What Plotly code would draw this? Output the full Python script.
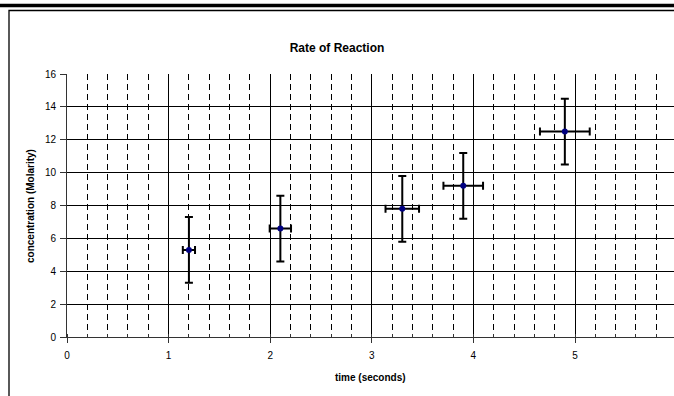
import plotly.graph_objects as go

# Data
time_s = [1.2, 2.1, 3.3, 3.9, 4.9]
concentration = [5.3, 6.6, 7.8, 9.2, 12.5]
y_error = [2, 2, 2, 2, 2]
x_error_percent = 5
x_ticks = [0, 1, 2, 3, 4, 5, 6]
y_ticks = [0, 2, 4, 6, 8, 10, 12, 14, 16]

FONT = "Arial, 'Liberation Sans', sans-serif"

W, H = 674, 396
L, R, T, B = 67, 0, 74, 59
pw = W - L - R
ph = H - T - B
px_per_unit = 101.6
x_max = pw / px_per_unit

fig = go.Figure()
fig.add_trace(go.Scatter(
    x=time_s, y=concentration, mode="markers",
    marker=dict(color="#000080", size=6, line=dict(width=0)),
    error_y=dict(type="data", array=y_error, visible=True, color="black",
                 thickness=2, width=4),
    error_x=dict(type="percent", value=x_error_percent, visible=True,
                 color="black", thickness=2, width=4),
    showlegend=False,
))

def px_x(p):
    return (p - L) / pw

def px_y(p):
    return (H - B - p) / ph

fig.update_layout(
    width=W, height=H, autosize=False,
    margin=dict(l=L, r=R, t=T, b=B, pad=0),
    paper_bgcolor="white", plot_bgcolor="white",
    font=dict(family=FONT, size=10, color="black"),
    title=dict(text="<b>Rate of Reaction</b>", font=dict(size=12, family=FONT),
               x=0.5, xref="container", xanchor="center",
               y=1 - 48 / H, yref="container", yanchor="middle"),
    xaxis=dict(range=[0, x_max], tickvals=x_ticks, ticktext=[str(t) for t in x_ticks],
               showgrid=True, gridcolor="black", gridwidth=1,
               showline=True, linecolor="#333", linewidth=1,
               ticks="outside", ticklen=5, tickcolor="#333",
               ticklabelstandoff=4,
               zeroline=False,
               minor=dict(dtick=0.2, showgrid=True, gridcolor="black",
                          griddash="6px,4px", gridwidth=1,
                          ticks="inside", ticklen=3, tickcolor="#333"),
               tickfont=dict(size=10, family=FONT)),
    yaxis=dict(range=[0, 16], tickvals=y_ticks, ticktext=[str(t) for t in y_ticks],
               showgrid=True, gridcolor="black", gridwidth=1,
               showline=True, linecolor="#333", linewidth=1,
               ticks="outside", ticklen=6, tickcolor="#333",
               ticklabelstandoff=2,
               zeroline=False,
               tickfont=dict(size=10, family=FONT)),
)

fig.add_annotation(text="<b>time (seconds)</b>", xref="paper", yref="paper",
                   x=px_x(370), y=px_y(377), xanchor="center", yanchor="middle",
                   showarrow=False, font=dict(size=10, family=FONT))
fig.add_annotation(text="<b>concentration (Molarity)</b>", xref="paper", yref="paper",
                   x=px_x(30), y=px_y(206), xanchor="center", yanchor="middle",
                   textangle=-90, showarrow=False, font=dict(size=10, family=FONT))

# chart frame (cut off at right and bottom) and heavy rule at top
fig.add_shape(type="rect", xref="paper", yref="paper",
              x0=px_x(9), x1=px_x(W + 20), y0=px_y(H + 20), y1=px_y(10.5),
              line=dict(color="black", width=1.3), fillcolor="rgba(0,0,0,0)", layer="above")
fig.add_shape(type="line", xref="paper", yref="paper",
              x0=px_x(-5), x1=px_x(W + 5), y0=px_y(5.5), y1=px_y(5.5),
              line=dict(color="black", width=3.5), layer="above")

fig.write_html("out.html", config={"displayModeBar": False},
               post_script="document.body.style.margin='0';document.body.style.overflow='hidden';")
